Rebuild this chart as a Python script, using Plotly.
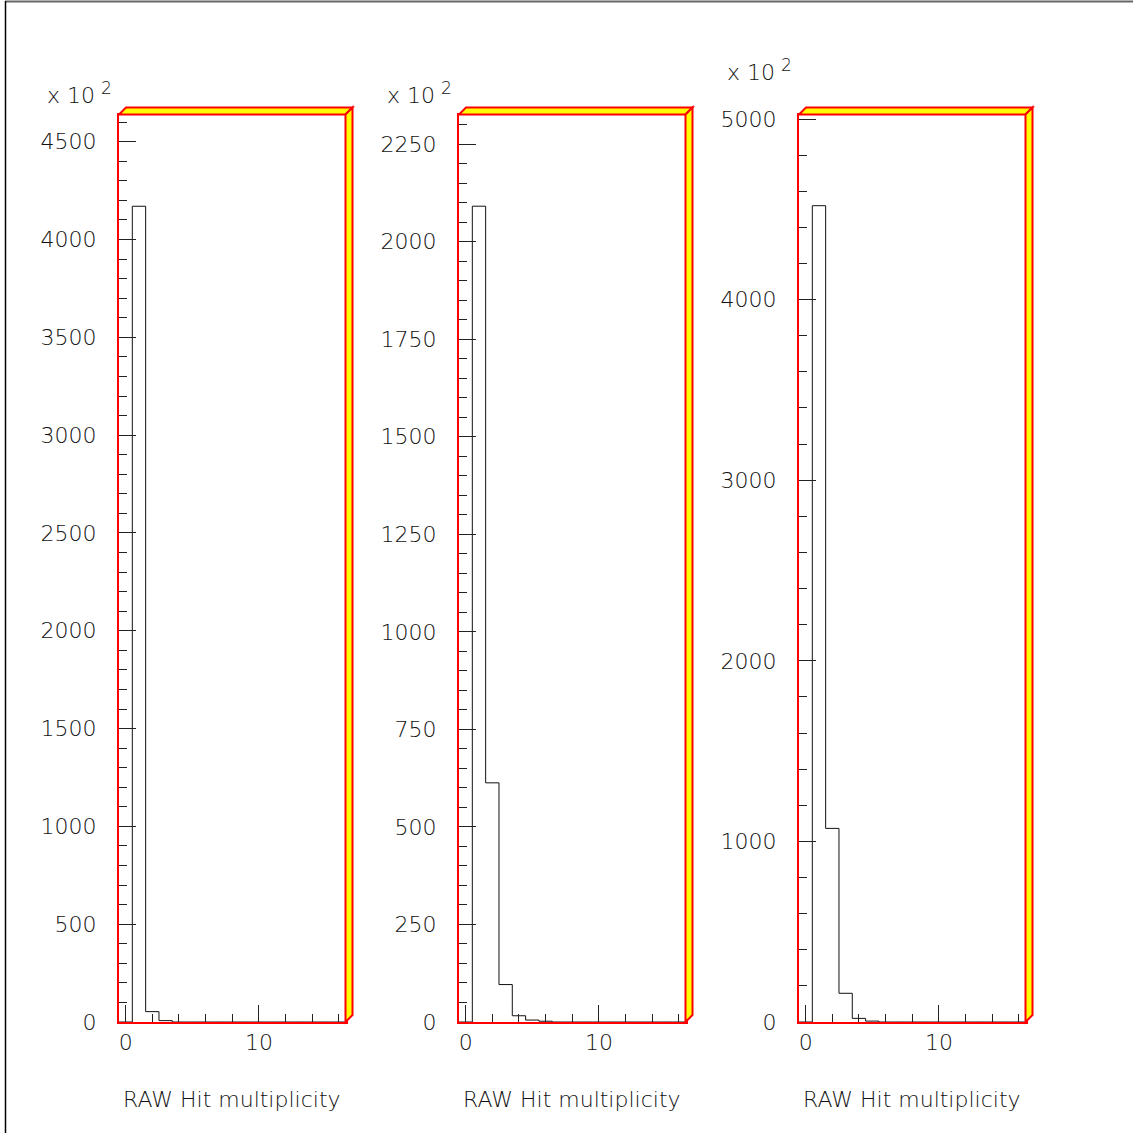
import plotly.graph_objects as go

# Bin contents (units of 10^2 entries), one bin per hit multiplicity 0..16
multiplicity = list(range(17))
hits_a = [0, 4170, 53, 7, 0, 0, 0, 0, 0, 0, 0, 0, 0, 0, 0, 0, 0]
hits_b = [0, 2091, 613, 96, 16, 5, 2, 0, 0, 0, 0, 0, 0, 0, 0, 0, 0]
hits_c = [0, 4520, 1072, 159, 20, 5, 0, 0, 0, 0, 0, 0, 0, 0, 0, 0, 0]

x_title = "RAW Hit multiplicity"
x_range = [-0.5, 16.5]
y_ranges = [[0, 4639], [0, 2326], [0, 5025]]
y_major = [500, 250, 1000]
y_minor = [100, 50, 200]

W = H = 1133
FONT = "DejaVu Sans"
TXT = "#111"

# frame pixel boxes (left, right) and common top/bottom
frames_x = [(119.0, 345.5), (459.0, 685.5), (799.0, 1025.5)]
top_px, bot_px = 114.5, 1022.0
depth = 7.0


def px(x):
    return x / W


def py(y):
    return 1 - y / H


def step_xy(centers, values):
    edges = [c - 0.5 for c in centers] + [centers[-1] + 0.5]
    return edges, list(values) + [values[-1]]


fig = go.Figure()
series = [hits_a, hits_b, hits_c]
shapes = []
annotations = []

for i, vals in enumerate(series):
    n = "" if i == 0 else str(i + 1)
    xs, ys = step_xy(multiplicity, vals)
    fig.add_trace(go.Scatter(
        x=xs, y=ys, mode="lines", line=dict(color="#111", width=1, shape="hv"),
        xaxis="x" + n, yaxis="y" + n, showlegend=False, hoverinfo="skip"))

    L, R = frames_x[i]
    fig.update_layout(**{
        "xaxis" + n: dict(
            domain=[px(L), px(R)], range=x_range, anchor="y" + n,
            automargin=False, showgrid=False, zeroline=False,
            showline=True, linecolor="#ff0000", linewidth=2, mirror=True,
            ticks="inside", ticklen=17, tickwidth=1, tickcolor="#222",
            tickmode="linear", tick0=0, dtick=10,
            minor=dict(ticks="inside", ticklen=8, tickwidth=1, tickcolor="#222",
                       dtick=2, tick0=0, showgrid=False),
            tickfont=dict(family=FONT, size=22, color=TXT, weight=200),
            ticklabelstandoff=0,
        ),
        "yaxis" + n: dict(
            domain=[py(bot_px), py(top_px)], range=y_ranges[i], anchor="x" + n,
            automargin=False, showgrid=False, zeroline=False,
            showline=True, linecolor="#ff0000", linewidth=2, mirror=True,
            ticks="inside", ticklen=17, tickwidth=1, tickcolor="#222",
            tickmode="linear", tick0=0, dtick=y_major[i],
            minor=dict(ticks="inside", ticklen=8, tickwidth=1, tickcolor="#222",
                       dtick=y_minor[i], tick0=0, showgrid=False),
            tickfont=dict(family=FONT, size=22, color=TXT, weight=200),
            ticklabelstandoff=16,
        ),
    })

    # 3D frame: top and right bevel strips
    T, B = top_px, bot_px
    top_path = (f"M {px(L)},{py(T)} L {px(L + depth)},{py(T - depth)} "
                f"L {px(R + depth)},{py(T - depth)} L {px(R)},{py(T)} Z")
    right_path = (f"M {px(R)},{py(T)} L {px(R + depth)},{py(T - depth)} "
                  f"L {px(R + depth)},{py(B - depth)} L {px(R)},{py(B)} Z")
    for p in (top_path, right_path):
        shapes.append(dict(type="path", path=p, xref="paper", yref="paper",
                           fillcolor="#ffff00", line=dict(color="#ff0000", width=2),
                           layer="above"))

    # exponent label: "x 10" with a raised "2"
    ex_y = 72 if i == 2 else 95
    annotations.append(dict(
        text="x 10", xref="paper", yref="paper",
        x=px(L - 74), y=py(ex_y), xanchor="left", yanchor="middle",
        showarrow=False, font=dict(family=FONT, size=22, color=TXT, weight=200)))
    annotations.append(dict(
        text="2", xref="paper", yref="paper",
        x=px(L - 20), y=py(ex_y - 7), xanchor="left", yanchor="middle",
        showarrow=False, font=dict(family=FONT, size=17, color=TXT, weight=200)))

    # x axis title, right aligned at the axis end
    annotations.append(dict(
        text=x_title, xref="paper", yref="paper",
        x=px(R - 3), y=py(1099), xanchor="right", yanchor="middle",
        showarrow=False, font=dict(family=FONT, size=22, color=TXT, weight=200)))

# canvas border (top and left edges)
shapes.append(dict(type="line", xref="paper", yref="paper",
                   x0=px(5), x1=1, y0=py(1.5), y1=py(1.5),
                   line=dict(color="#666", width=2)))
shapes.append(dict(type="line", xref="paper", yref="paper",
                   x0=px(5.5), x1=px(5.5), y0=py(1), y1=0,
                   line=dict(color="#000", width=1.5)))

fig.update_layout(
    template="none",
    width=W, height=H, autosize=False,
    margin=dict(l=0, r=0, t=0, b=0, pad=0, autoexpand=False),
    paper_bgcolor="white", plot_bgcolor="white",
    shapes=shapes, annotations=annotations,
    showlegend=False,
)

fig.write_html("out.html")
